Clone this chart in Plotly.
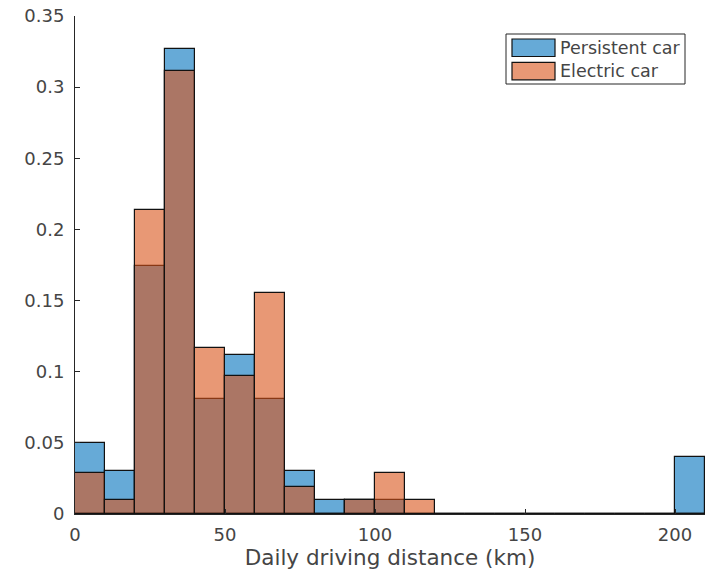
import plotly.graph_objects as go

# Histogram bins: 10 km wide, left edges 0..200 km
bin_left = list(range(0, 210, 10))
bin_width = 10

# Relative frequency per bin
persistent_car = [0.050, 0.030, 0.174, 0.327, 0.081, 0.112, 0.081, 0.030,
                  0.010, 0.010, 0.010, 0.000, 0.000, 0.000, 0.000, 0.000,
                  0.000, 0.000, 0.000, 0.000, 0.040]
electric_car = [0.029, 0.0097, 0.214, 0.311, 0.117, 0.097, 0.155, 0.019,
                0.000, 0.0097, 0.029, 0.0097, 0.000, 0.000, 0.000, 0.000,
                0.000, 0.000, 0.000, 0.000, 0.000]

series_names = ["Persistent car", "Electric car"]
x_ticks = [0, 50, 100, 150, 200]
y_ticks = [0, 0.05, 0.1, 0.15, 0.2, 0.25, 0.3, 0.35]

BLUE = "rgba(0,114,189,0.6)"
ORANGE = "rgba(217,83,25,0.6)"
EDGE = "#111111"
AXIS = "#262626"
TEXT = "#454545"
FONT = "DejaVu Sans"

W, H = 706, 577
L, R, T, B = 75, 1, 16, 63

centers = [b + bin_width / 2 for b in bin_left]

fig = go.Figure()
for name, vals, col in [(series_names[0], persistent_car, BLUE),
                        (series_names[1], electric_car, ORANGE)]:
    fig.add_trace(go.Bar(
        x=centers, y=vals, width=bin_width, name=name,
        marker=dict(color=col, line=dict(color=EDGE, width=1.2)),
        showlegend=False,
    ))


def px(xp, yp):
    """Pixel position in the figure -> paper coordinates."""
    return (xp - L) / (W - L - R), (H - B - yp) / (H - T - B)


# Legend box drawn as shapes
shapes = []
x0, y0 = px(506, 34)
x1, y1 = px(685, 84)
shapes.append(dict(type="rect", xref="paper", yref="paper", x0=x0, y0=y0,
                   x1=x1, y1=y1, line=dict(color=AXIS, width=1),
                   fillcolor="white", layer="above"))
annotations = []
for i, (name, col) in enumerate(zip(series_names, [BLUE, ORANGE])):
    top = 39 + i * 23.3
    sx0, sy0 = px(512, top)
    sx1, sy1 = px(555, top + 17.5)
    shapes.append(dict(type="rect", xref="paper", yref="paper", x0=sx0,
                       y0=sy0, x1=sx1, y1=sy1, fillcolor=col,
                       line=dict(color=EDGE, width=1.2), layer="above"))
    tx, ty = px(558, top + 9)
    annotations.append(dict(xref="paper", yref="paper", x=tx, y=ty,
                            text=name, showarrow=False, xanchor="left",
                            yanchor="middle",
                            font=dict(family=FONT, size=17.5, color=TEXT)))

fig.update_layout(
    width=W, height=H,
    margin=dict(l=L, r=R, t=T, b=B, pad=0),
    barmode="overlay", bargap=0,
    plot_bgcolor="white", paper_bgcolor="white",
    font=dict(family=FONT, size=18, color=TEXT),
    shapes=shapes, annotations=annotations,
    xaxis=dict(range=[0, 210], tickvals=x_ticks, ticks="inside", ticklen=5,
               tickcolor=AXIS, showline=True, linecolor=AXIS, linewidth=1,
               showgrid=False, zeroline=False, ticklabelstandoff=4,
               tickfont=dict(family=FONT, size=18, color=TEXT),
               title=dict(text="Daily driving distance (km)", standoff=6,
                          font=dict(family=FONT, size=21.5, color=TEXT))),
    yaxis=dict(range=[0, 0.35], tickvals=y_ticks, ticks="inside", ticklen=5,
               tickcolor=AXIS, showline=True, linecolor=AXIS, linewidth=1,
               showgrid=False, zeroline=False, ticklabelstandoff=6,
               tickfont=dict(family=FONT, size=18, color=TEXT)),
)

fig.write_html("out.html")
